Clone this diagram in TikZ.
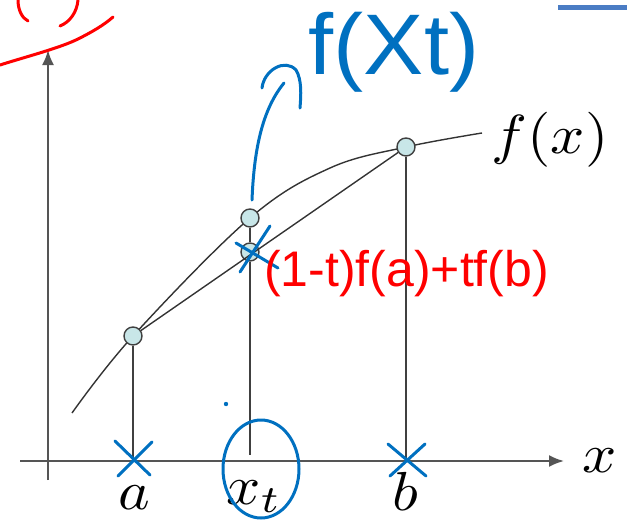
\documentclass[tikz,border=0pt]{standalone}
\usepackage{fontspec}
\newfontfamily\hand{Liberation Sans}
\usetikzlibrary{arrows.meta}
\definecolor{inkblue}{RGB}{0,112,192}
\definecolor{inkred}{RGB}{255,0,0}
\definecolor{barblue}{RGB}{74,124,196}
\definecolor{ptfill}{RGB}{200,230,232}
\definecolor{axisgray}{RGB}{85,85,85}
\tikzset{
  axis/.style={draw=axisgray, line width=2pt, -{Latex[length=15pt,width=12pt]}},
  graphline/.style={draw=black!80, line width=1.4pt},
  dropline/.style={draw=black!75, line width=1.6pt},
  pt/.style={circle, draw=black!75, line width=1.4pt, fill=ptfill, minimum size=18pt, inner sep=0pt},
  lbl/.style={xscale=6.0, yscale=5.5, inner sep=0pt, anchor=base},
  blueink/.style={draw=inkblue, line width=3pt, line cap=round, line join=round},
  redink/.style={draw=inkred, line width=3pt, line cap=round, line join=round},
}
\begin{document}
\begin{tikzpicture}[x=1pt,y=-1pt]
\useasboundingbox (0,0) rectangle (627,520);
% axes
\coordinate (xs) at (20,461);
\coordinate (xe) at (564,461);
\coordinate (ys) at (48,480);
\coordinate (ye) at (48,50);
\draw[axis] (xs) -- (xe);
\draw[axis] (ys) -- (ye);
% points
\coordinate (fa) at (133,461);
\coordinate (ft) at (250,455);
\coordinate (fb) at (406,461);
\draw[graphline] plot[smooth, tension=0.6] coordinates {(72,413) (133,336) (250,218) (330,168) (406,147) (482,133)};
\node[pt] (pA) at (133,336) {};
\node[pt] (pT) at (250,218) {};
\node[pt] (pC) at (250,252) {};
\node[pt] (pB) at (406,147) {};
\draw[graphline] (pA) -- (pB);
\draw[dropline] (pA) -- (fa);
\draw[dropline] (pT) -- (pC);
\draw[dropline] (pC) -- (ft);
\draw[dropline] (pB) -- (fb);
% labels
\node[lbl] (la) at (134,509) {$a$};
\node[lbl] (lt) at (254,504) {$x_t$};
\node[lbl] (lb) at (405,510) {$b$};
\node[lbl] (lx) at (600,472) {$x$};
\node[lbl] (lf) at (550,153) {$f(x)$};
% blue annotations
\draw[barblue, line width=5pt] (558,7) -- (627,7);
\draw[blueink] (252,200) .. controls (254,150) and (262,110) .. (284,83);
\draw[blueink] (262,88) .. controls (264,70) and (285,58) .. (296,70) .. controls (302,80) and (301,95) .. (300,108);
\node[text=inkblue, font=\hand\fontsize{86}{90}\selectfont, inner sep=0pt, xscale=1.05] (ft2) at (394,52) {f(Xt)};
% X marks
\draw[blueink] (115,441) -- (150,475) (152,442) -- (118,476);
\draw[blueink] (388,444) -- (426,476) (425,444) -- (390,476);
\draw[blueink] (236,243) -- (278,268) (270,226) -- (240,272);
\fill[inkblue] (226,404) circle (2.2pt);
\draw[blueink] (261,469) ellipse [x radius=38, y radius=49];
% red annotations
\draw[redink] (0,65) .. controls (25,57) and (60,48) .. (78,39) .. controls (92,32) and (104,25) .. (113,17);
\draw[redink] (18,0) .. controls (18,10) and (22,18) .. (28,21);
\draw[redink] (78,0) .. controls (77,12) and (70,22) .. (60,26);
\node[text=inkred, font=\hand\fontsize{50}{54}\selectfont, inner sep=0pt, anchor=west] (rt) at (264,274) {(1-t)f(a)+tf(b)};
\end{tikzpicture}
\end{document}
